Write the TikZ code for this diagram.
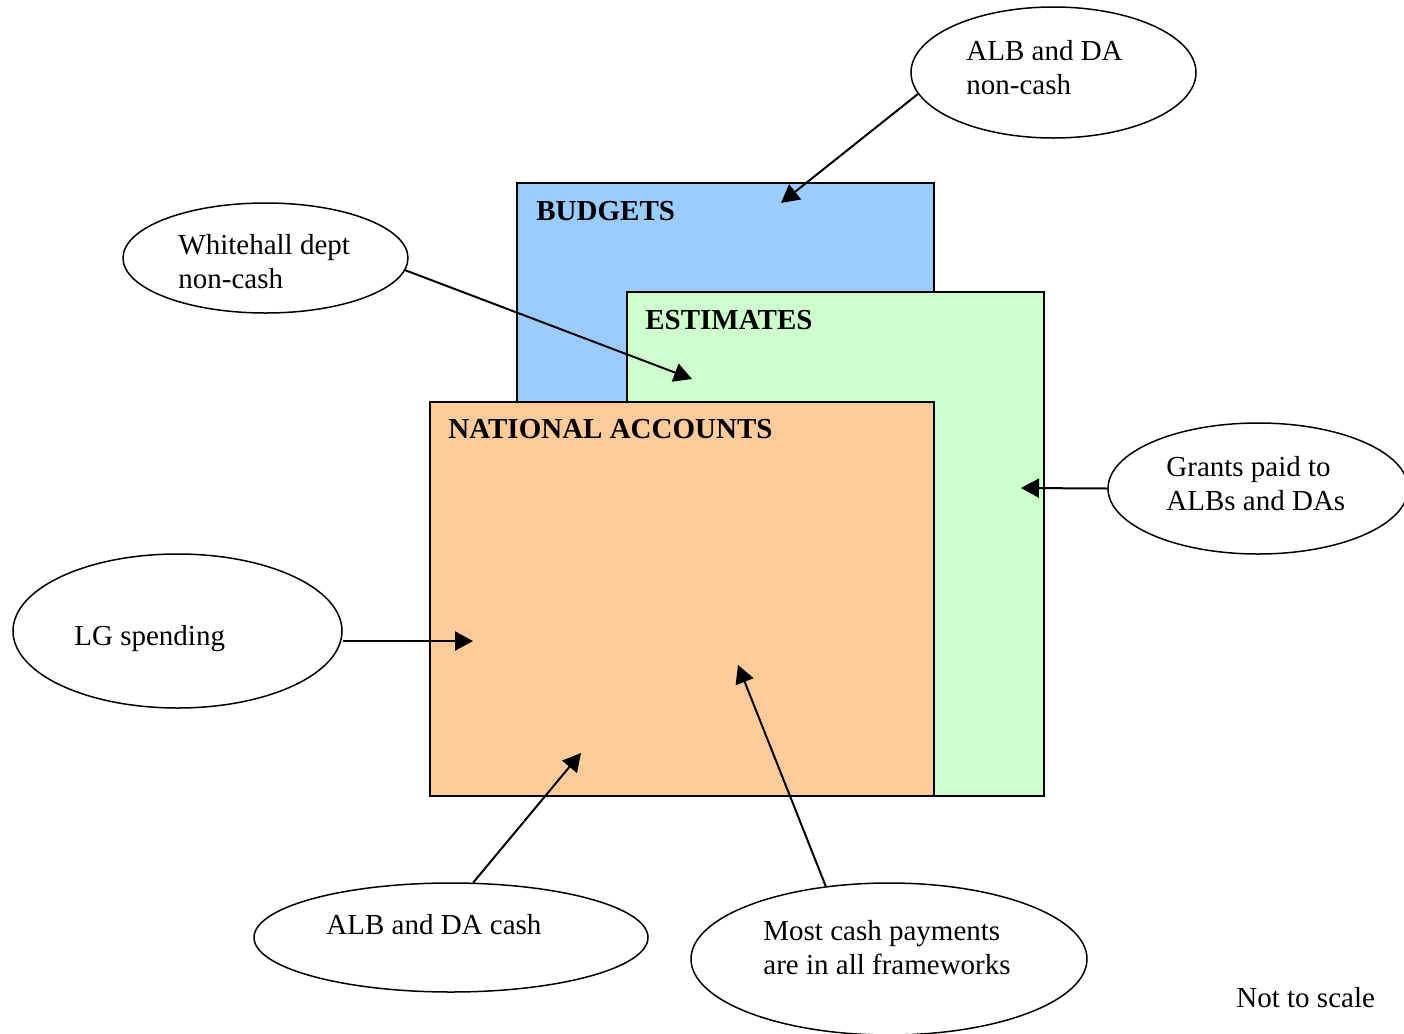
\documentclass[tikz,border=0pt]{standalone}
\usepackage{fontspec}
\setmainfont{Liberation Serif}
\usetikzlibrary{positioning, arrows.meta, shapes.geometric}
\definecolor{budblue}{HTML}{99CCFF}
\definecolor{estgreen}{HTML}{CCFFCC}
\definecolor{naorange}{HTML}{FFCC99}

\begin{document}
\begin{tikzpicture}[x=0.5pt, y=-0.5pt, >={Triangle[length=9pt, width=9.5pt]},
	frame/.style={draw, line width=1pt, anchor=north west, inner sep=0pt},
	bubble/.style={ellipse, draw, line width=0.75pt, inner sep=0pt},
	txt/.style={anchor=base west, align=left, inner sep=0pt, font=\fontsize{14.5}{17}\selectfont},
	head/.style={txt, font=\fontsize{14.5}{17}\selectfont\bfseries},
	link/.style={->, line width=1pt}]
	\useasboundingbox (0,0) rectangle (1404,1034);
	% Boxes
	\node (Budgets) [frame, fill=budblue, minimum width=208.5pt, minimum height=306.5pt] at (516,182) {};
	\node (Estimates) [frame, fill=estgreen, minimum width=208.5pt, minimum height=252pt] at (626,291) {};
	\node (NatAcc) [frame, fill=naorange, minimum width=252pt, minimum height=197pt] at (429,401) {};
	\node (BudgetsLbl) [head] at (536,220) {BUDGETS};
	\node (EstimatesLbl) [head] at (645,329) {ESTIMATES};
	\node (NatAccLbl) [head] at (448,438) {NATIONAL ACCOUNTS};

	% Nodes
	\node (AlbNonCash) [bubble, minimum width=142.5pt, minimum height=65.5pt] at (1053.5,72.5) {};
	\node (WhNonCash) [bubble, minimum width=142.5pt, minimum height=55pt] at (265.5,258) {};
	\node (Grants) [bubble, minimum width=150pt, minimum height=65.5pt] at (1258,488.5) {};
	\node (LG) [bubble, minimum width=164.5pt, minimum height=77pt] at (177.5,631) {};
	\node (AlbCash) [bubble, minimum width=197pt, minimum height=54.5pt] at (451,937.5) {};
	\node (MostCash) [bubble, minimum width=198pt, minimum height=76pt] at (889,959) {};

	% Texts (base = last line)
	\node (AlbNonCashTxt) [txt] at (966,94) {ALB and DA\\non-cash};
	\node (WhNonCashTxt) [txt] at (178,288) {Whitehall dept\\non-cash};
	\node (GrantsTxt) [txt] at (1166,510) {Grants paid to\\ALBs and DAs};
	\node (LGTxt) [txt] at (74,645) {LG spending};
	\node (AlbCashTxt) [txt] at (326,934) {ALB and DA cash};
	\node (MostCashTxt) [txt] at (763,974) {Most cash payments\\are in all frameworks};
	\node (Scale) [txt] at (1236,1007) {Not to scale};

	% Arrows
	\coordinate (BudTip) at (781,203);
	\coordinate (EstTip) at (692,379);
	\coordinate (EstSide) at (1021,488);
	\coordinate (LGTip) at (473,641);
	\coordinate (CashTip) at (581,753);
	\coordinate (MostTip) at (738,665);
	\draw[link] (AlbNonCash.189) -- (BudTip);
	\draw[link] (WhNonCash.-5) -- (EstTip);
	\draw[link] (Grants.west) -- (EstSide);
	\draw[link] (LG.east |- LGTip) -- (LGTip);
	\draw[link] (AlbCash.68) -- (CashTip);
	\draw[link] (MostCash.131) -- (MostTip);
\end{tikzpicture}
\end{document}
